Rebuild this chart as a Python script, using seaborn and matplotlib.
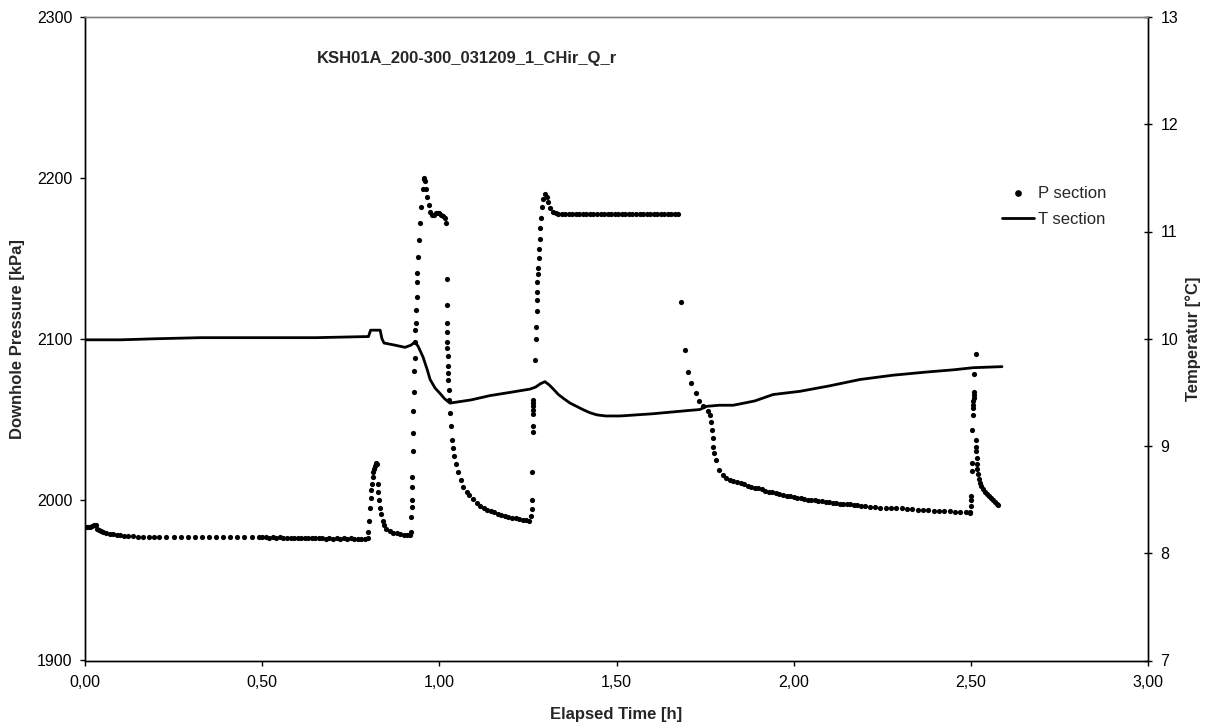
import matplotlib
matplotlib.use("Agg")
import matplotlib.pyplot as plt
import matplotlib.ticker as mticker
from matplotlib.lines import Line2D
import seaborn as sns
import pandas as pd

# ---- Pressure in the test section (scatter) ----
p_time = [
    0.000, 0.005, 0.010, 0.015, 0.020, 0.025, 0.030, 0.035, 0.040, 0.045,
    0.050, 0.060, 0.070, 0.080, 0.090, 0.100, 0.110, 0.120, 0.135, 0.150,
    0.165, 0.180, 0.195, 0.210, 0.230, 0.250, 0.270, 0.290, 0.310, 0.330,
    0.350, 0.370, 0.390, 0.410, 0.430, 0.450, 0.470, 0.490, 0.500, 0.510,
    0.520, 0.530, 0.540, 0.550, 0.560, 0.570, 0.580, 0.590, 0.600, 0.610,
    0.620, 0.630, 0.640, 0.650, 0.660, 0.670, 0.680, 0.690, 0.700, 0.710,
    0.720, 0.730, 0.740, 0.750, 0.760, 0.770, 0.780, 0.790, 0.798,
    # first pulse
    0.800, 0.802, 0.804, 0.806, 0.808, 0.810, 0.812, 0.814, 0.816, 0.818,
    0.820, 0.822, 0.824, 0.826, 0.828, 0.830, 0.832, 0.835, 0.840, 0.845,
    0.850, 0.860, 0.870, 0.880, 0.890, 0.900, 0.910, 0.918,
    # injection start
    0.920, 0.921, 0.922, 0.922, 0.923, 0.923, 0.925, 0.926, 0.927, 0.928,
    0.929, 0.930, 0.931, 0.932, 0.933, 0.934, 0.936, 0.937, 0.938, 0.940,
    0.943, 0.946, 0.949, 0.953, 0.956, 0.958, 0.960, 0.963, 0.966, 0.970,
    0.975, 0.980, 0.985, 0.990, 0.995, 1.000, 1.005, 1.010, 1.015, 1.020,
    # recovery
    1.022, 1.022, 1.022, 1.022, 1.023, 1.023, 1.024, 1.024, 1.025, 1.025,
    1.026, 1.027, 1.030, 1.032, 1.035, 1.038, 1.042, 1.047, 1.053, 1.060,
    1.068, 1.077, 1.085, 1.095, 1.105, 1.115, 1.125, 1.135, 1.145, 1.155,
    1.165, 1.175, 1.185, 1.195, 1.205, 1.215, 1.225, 1.235, 1.245, 1.253,
    # second injection
    1.260, 1.261, 1.261, 1.262, 1.263, 1.263, 1.264, 1.264, 1.264, 1.265,
    1.265, 1.271, 1.273, 1.274, 1.275, 1.276, 1.277, 1.277, 1.278, 1.279,
    1.280, 1.282, 1.283, 1.285, 1.287, 1.289, 1.293, 1.298, 1.303, 1.308,
    1.313, 1.320, 1.328, 1.335, 1.345, 1.355, 1.365, 1.375, 1.385, 1.395,
    1.405, 1.415, 1.425, 1.435, 1.445, 1.455, 1.465, 1.475, 1.485, 1.495,
    1.505, 1.515, 1.525, 1.535, 1.545, 1.555, 1.565, 1.575, 1.585, 1.595,
    1.605, 1.615, 1.625, 1.635, 1.645, 1.655, 1.665, 1.674,
    # second recovery
    1.681, 1.692, 1.703, 1.710, 1.724, 1.734, 1.745, 1.759, 1.764, 1.767,
    1.769, 1.771, 1.773, 1.776, 1.780, 1.790, 1.800, 1.810, 1.820, 1.830,
    1.840, 1.850, 1.860, 1.870, 1.880, 1.890, 1.900, 1.910, 1.920, 1.930,
    1.940, 1.950, 1.960, 1.970, 1.980, 1.990, 2.000, 2.010, 2.020, 2.030,
    2.040, 2.050, 2.060, 2.070, 2.080, 2.090, 2.100, 2.110, 2.120, 2.130,
    2.140, 2.150, 2.160, 2.170, 2.180, 2.190, 2.200, 2.215, 2.230, 2.245,
    2.260, 2.275, 2.290, 2.305, 2.320, 2.335, 2.350, 2.365, 2.380, 2.395,
    2.410, 2.425, 2.440, 2.455, 2.470, 2.485, 2.497,
    # final pulse
    2.499, 2.500, 2.500, 2.501, 2.503, 2.503, 2.504, 2.506, 2.506, 2.507,
    2.507, 2.508, 2.508, 2.509, 2.508, 2.514, 2.514, 2.515, 2.515, 2.516,
    2.517, 2.518, 2.520, 2.523, 2.526, 2.530, 2.535, 2.540, 2.546, 2.552,
    2.558, 2.563, 2.568, 2.573, 2.577,
]
p_kpa = [
    1983.0, 1983.0, 1983.0, 1983.0, 1983.5, 1984.5, 1984.0, 1982.0, 1981.0, 1980.5,
    1980.0, 1979.0, 1978.5, 1978.5, 1978.0, 1978.0, 1977.5, 1977.5, 1977.5, 1977.0,
    1977.0, 1977.0, 1977.0, 1977.0, 1976.8, 1976.8, 1976.8, 1976.8, 1976.8, 1976.8,
    1976.8, 1976.8, 1976.8, 1976.8, 1976.8, 1976.8, 1976.8, 1976.8, 1976.6, 1976.6,
    1976.4, 1976.6, 1976.3, 1976.5, 1976.2, 1976.4, 1976.2, 1976.4, 1976.0, 1976.3,
    1976.0, 1976.2, 1975.9, 1976.2, 1975.9, 1976.1, 1975.8, 1976.0, 1975.8, 1976.0,
    1975.8, 1975.9, 1975.7, 1975.9, 1975.7, 1975.8, 1975.7, 1975.8, 1976.0,
    1980.0, 1987.0, 1995.0, 2001.0, 2006.0, 2010.0, 2014.0, 2017.0, 2019.0, 2021.0,
    2022.0, 2023.0, 2022.0, 2010.0, 2005.0, 2000.0, 1995.0, 1991.0, 1987.0, 1984.0,
    1982.0, 1980.5, 1979.5, 1979.0, 1978.5, 1978.0, 1978.0, 1978.0,
    1980.0, 1989.5, 1995.7, 2000.0, 2008.0, 2014.3, 2030.0, 2041.5, 2055.0, 2067.0,
    2080.0, 2088.0, 2098.0, 2105.5, 2110.0, 2118.0, 2126.0, 2135.0, 2141.0, 2151.0,
    2161.5, 2172.0, 2182.0, 2193.0, 2199.0, 2200.0, 2198.0, 2193.0, 2188.0, 2183.0,
    2179.0, 2177.0, 2177.0, 2178.0, 2178.0, 2178.0, 2177.0, 2176.0, 2175.0, 2172.0,
    2137.0, 2121.0, 2110.0, 2104.5, 2098.0, 2094.0, 2089.0, 2083.0, 2079.0, 2074.5,
    2068.0, 2062.0, 2054.0, 2045.5, 2037.0, 2032.0, 2027.0, 2022.0, 2017.0, 2012.0,
    2008.0, 2005.0, 2003.0, 2000.5, 1998.0, 1996.0, 1994.5, 1993.5, 1992.8, 1992.0,
    1991.0, 1990.3, 1989.7, 1989.2, 1988.8, 1988.3, 1988.0, 1987.6, 1987.3, 1987.0,
    1990.0, 1994.0, 2000.0, 2017.0, 2042.0, 2046.0, 2053.0, 2056.0, 2058.0, 2060.0,
    2062.0, 2087.0, 2100.0, 2107.0, 2117.0, 2124.0, 2129.0, 2135.0, 2140.0, 2144.0,
    2150.0, 2156.0, 2162.0, 2169.0, 2175.0, 2182.0, 2187.0, 2190.0, 2188.0, 2185.0,
    2181.0, 2179.0, 2178.0, 2177.5, 2177.5, 2177.3, 2177.5, 2177.6, 2177.4, 2177.5,
    2177.5, 2177.3, 2177.5, 2177.6, 2177.4, 2177.5, 2177.5, 2177.3, 2177.5, 2177.6,
    2177.4, 2177.5, 2177.5, 2177.3, 2177.5, 2177.6, 2177.4, 2177.5, 2177.5, 2177.3,
    2177.5, 2177.6, 2177.4, 2177.5, 2177.5, 2177.6, 2177.5, 2177.5,
    2123.0, 2093.0, 2079.5, 2072.5, 2066.0, 2061.5, 2058.0, 2055.0, 2052.7, 2048.0,
    2043.5, 2038.0, 2033.0, 2029.0, 2024.7, 2018.5, 2015.5, 2013.5, 2012.0, 2011.5,
    2011.0, 2010.5, 2009.5, 2008.5, 2008.0, 2007.5, 2007.0, 2006.5, 2005.5, 2005.0,
    2004.5, 2004.0, 2003.5, 2003.0, 2002.5, 2002.0, 2001.5, 2001.0, 2001.0, 2000.5,
    2000.0, 2000.0, 1999.5, 1999.0, 1999.0, 1998.8, 1998.5, 1998.0, 1998.0, 1997.5,
    1997.5, 1997.0, 1997.0, 1996.5, 1996.5, 1996.0, 1996.0, 1995.5, 1995.5, 1995.0,
    1995.0, 1994.7, 1994.5, 1994.5, 1994.0, 1994.0, 1993.5, 1993.5, 1993.5, 1993.0,
    1993.0, 1993.0, 1992.8, 1992.5, 1992.5, 1992.0, 1991.6,
    1992.6, 1996.0, 2000.0, 2002.0, 2017.5, 2022.8, 2043.4, 2052.7, 2057.0, 2059.0,
    2061.0, 2063.0, 2065.0, 2067.0, 2078.0, 2090.7, 2037.0, 2033.0, 2030.0, 2026.0,
    2022.0, 2019.0, 2016.0, 2013.0, 2010.5, 2008.5, 2006.5, 2005.0, 2003.5, 2002.5,
    2001.0, 1999.5, 1998.5, 1997.5, 1996.7,
]

# ---- Temperature in the test section (line) ----
t_time = [
    0.000, 0.100, 0.200, 0.325, 0.500, 0.650, 0.790, 0.800, 0.806, 0.813,
    0.833, 0.838, 0.844, 0.860, 0.875, 0.903, 0.920, 0.931, 0.940, 0.954,
    0.965, 0.974, 0.988, 1.002, 1.015, 1.030, 1.090, 1.143, 1.200, 1.255,
    1.264, 1.272, 1.285, 1.298, 1.310, 1.322, 1.336, 1.352, 1.369, 1.387,
    1.405, 1.425, 1.445, 1.470, 1.510, 1.600, 1.700, 1.735, 1.755, 1.790,
    1.829, 1.860, 1.890, 1.942, 2.018, 2.100, 2.187, 2.280, 2.376, 2.450,
    2.506, 2.588,
]
t_degc = [
    9.99, 9.99, 10.00, 10.01, 10.01, 10.01, 10.02, 10.02, 10.08, 10.08,
    10.08, 10.00, 9.96, 9.95, 9.94, 9.92, 9.94, 9.97, 9.93, 9.83,
    9.72, 9.62, 9.54, 9.49, 9.44, 9.40, 9.43, 9.47, 9.50, 9.53,
    9.54, 9.55, 9.58, 9.60, 9.57, 9.53, 9.48, 9.44, 9.40, 9.37,
    9.34, 9.31, 9.29, 9.28, 9.28, 9.30, 9.33, 9.34, 9.37, 9.38,
    9.38, 9.40, 9.42, 9.48, 9.51, 9.56, 9.62, 9.66, 9.69, 9.71,
    9.73, 9.74,
]

x_ticks = [0.0, 0.5, 1.0, 1.5, 2.0, 2.5, 3.0]
p_ticks = [1900, 2000, 2100, 2200, 2300]
t_ticks = [7, 8, 9, 10, 11, 12, 13]

title = "KSH01A_200-300_031209_1_CHir_Q_r"

pressure = pd.DataFrame({"time": p_time, "p": p_kpa})
temperature = pd.DataFrame({"time": t_time, "t": t_degc})

sns.set_style("ticks")
plt.rcParams["font.family"] = ["Liberation Sans", "DejaVu Sans"]

W, H = 1212, 726
fig = plt.figure(figsize=(W / 100, H / 100), dpi=100)
left, right, top, bottom = 85, 1148, 17, 660.5
ax = fig.add_axes([left / W, 1 - bottom / H, (right - left) / W, (bottom - top) / H])

sns.scatterplot(data=pressure, x="time", y="p", ax=ax, color="black",
                s=14, linewidth=0, legend=False, zorder=3)
ax.set_xlim(0, 3)
ax.set_ylim(1900, 2300)
ax.set_xticks(x_ticks)
ax.set_yticks(p_ticks)
ax.xaxis.set_major_formatter(mticker.FuncFormatter(lambda v, _: f"{v:.2f}".replace(".", ",")))

ax2 = ax.twinx()
sns.lineplot(data=temperature, x="time", y="t", ax=ax2, color="black",
             linewidth=2.0, legend=False, estimator=None, sort=False)
ax2.set_ylim(7, 13)
ax2.set_yticks(t_ticks)

for a in (ax, ax2):
    for side in ("left", "bottom", "right"):
        a.spines[side].set_color("black")
        a.spines[side].set_linewidth(1.0)
    a.spines["top"].set_color("#808080")
    a.spines["top"].set_linewidth(1.0)
    a.grid(False)

ax.tick_params(axis="both", direction="out", length=3.6, width=1.0,
               labelsize=11.5, colors="black", pad=5.5)
ax.tick_params(axis="x", pad=6.5)
ax2.tick_params(axis="y", direction="inout", length=6, width=1.0,
                labelsize=11.5, colors="black", pad=6)

ax.set_xlabel("Elapsed Time [h]", fontsize=12, fontweight="bold")
ax.set_ylabel("Downhole Pressure [kPa]", fontsize=12, fontweight="bold")
ax2.set_ylabel("Temperatur [°C]", fontsize=12, fontweight="bold")
ax.xaxis.set_label_coords(0.5, (bottom - 715) / (bottom - top))
ax.xaxis.label.set_verticalalignment("center")
ax.yaxis.set_label_coords((18 - left) / (right - left), 0.5)
ax.yaxis.label.set_verticalalignment("center")
ax2.yaxis.set_label_coords((1193 - left) / (right - left), 0.5)
ax2.yaxis.label.set_verticalalignment("center")

fig.text(317 / W, 1 - 58 / H, title, ha="left", va="center",
         fontsize=12, fontweight="bold")

handles = [
    Line2D([], [], marker="o", linestyle="", color="black", markersize=3.8),
    Line2D([], [], color="black", linewidth=2.0),
]
ax2.legend(handles, ["P section", "T section"], loc="center left",
           bbox_to_anchor=(1002 / W, 1 - 206.5 / H), bbox_transform=fig.transFigure,
           frameon=False, fontsize=12, handlelength=1.9, handletextpad=0.25,
           labelspacing=0.6, borderpad=0, borderaxespad=0)

fig.savefig("out.png", dpi=100)
